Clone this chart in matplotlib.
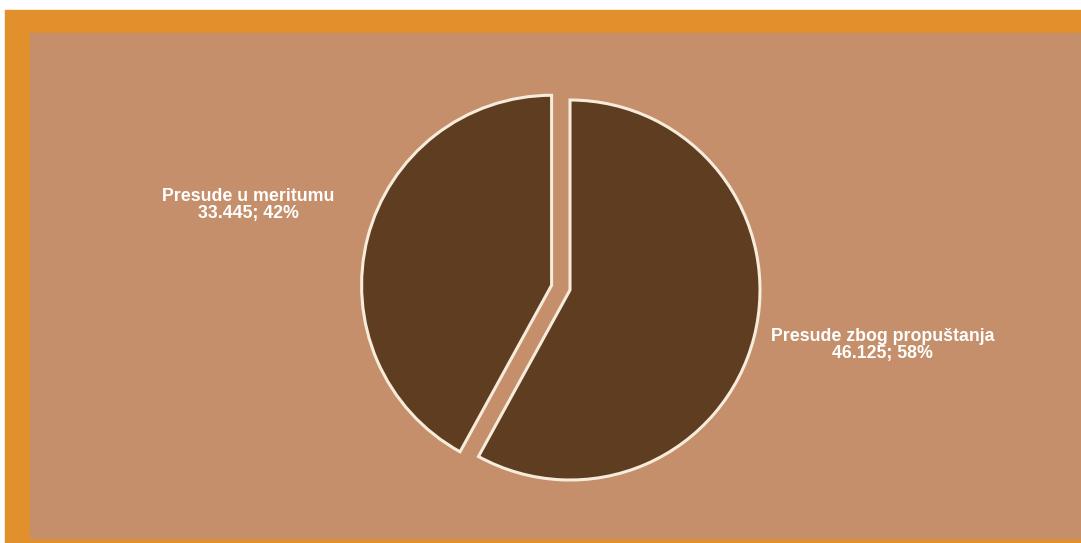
import matplotlib
matplotlib.use("Agg")
import matplotlib.pyplot as plt
from matplotlib.patches import Rectangle

# data
labels = ["Presude u meritumu", "Presude zbog propuštanja"]
counts = ["33.445", "46.125"]
shares = [42, 58]

W, H = 1081, 543
fig = plt.figure(figsize=(W / 100, H / 100), dpi=100, facecolor="white")

# frame: orange band on top and left, brown panel inside
fig.patches.append(Rectangle((5 / W, 0), 1 - 5 / W, 1 - 10 / H,
                             transform=fig.transFigure, color="#E1902B", zorder=-2))
fig.patches.append(Rectangle((30 / W, 5 / H), 1 - 30 / W, 1 - 33 / H - 5 / H,
                             transform=fig.transFigure, color="#C48F6A", zorder=-1))

ax = fig.add_axes([0, 0, 1, 1])
ax.set_zorder(2)
ax.patch.set_alpha(0)

wedges, _ = ax.pie(shares, startangle=90, counterclock=True,
                   explode=[0.1, 0], colors=["#5E3D20", "#5E3D20"],
                   wedgeprops=dict(edgecolor="#F7EBDC", linewidth=2.2))

# one data unit = 190 px, pie centre at (570, 290) px from top-left
r = 190.0
ax.set_xlim(-570 / r, (W - 570) / r)
ax.set_ylim(-(H - 290) / r, 290 / r)
ax.set_aspect("auto")
ax.axis("off")

label_pos = [(-1.695, 0.447), (1.647, -0.289)]
for lab, c, s, (x, y) in zip(labels, counts, shares, label_pos):
    ax.text(x, y, f"{lab}\n{c}; {s}%", ha="center", va="center",
            multialignment="center", color="white", fontsize=12.8,
            fontweight="bold", family="Liberation Sans", linespacing=0.95)

fig.savefig("out.png", dpi=100, facecolor=fig.get_facecolor())
